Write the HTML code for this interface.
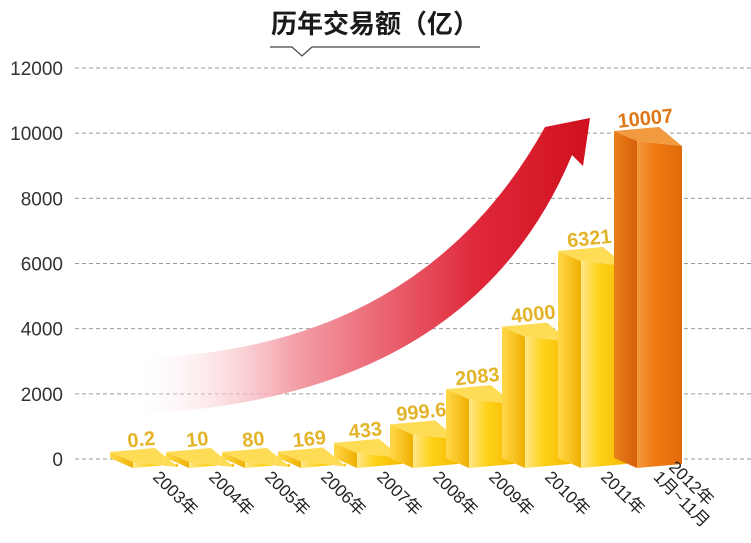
<!DOCTYPE html>
<html><head><meta charset="utf-8"><style>
body{margin:0;background:#fff;width:751px;height:543px;overflow:hidden;}
svg{display:block;font-family:"Liberation Sans","Noto Sans CJK SC",sans-serif;}
</style></head><body>
<svg id="c" width="751" height="543">
<defs>
<linearGradient id="arrowG" x1="0" y1="0" x2="1" y2="0">
<stop offset="0" stop-color="#fff" stop-opacity="0.1"/>
<stop offset="0.35" stop-color="#f3a0a8"/>
<stop offset="0.75" stop-color="#e0283a"/>
<stop offset="1" stop-color="#d0101e"/>
</linearGradient>
<linearGradient id="frontY" x1="0" x2="1"><stop offset="0" stop-color="#ffe88a"/><stop offset="0.4" stop-color="#ffd21a"/><stop offset="1" stop-color="#f5b800"/></linearGradient>
<linearGradient id="sideY" x1="0" x2="1"><stop offset="0" stop-color="#ffd84a"/><stop offset="1" stop-color="#f0b000"/></linearGradient>
<linearGradient id="frontO" x1="0" x2="1"><stop offset="0" stop-color="#f59a40"/><stop offset="0.4" stop-color="#ee7a12"/><stop offset="1" stop-color="#e06a0a"/></linearGradient>
<linearGradient id="sideO" x1="0" x2="1"><stop offset="0" stop-color="#e8801a"/><stop offset="1" stop-color="#d8600a"/></linearGradient>
</defs>
<text x="375" y="33" text-anchor="middle" font-size="26" font-weight="bold" fill="#1a1a1a">历年交易额（亿）</text>
<path d="M270,47 L292,47 L302,56 L312,47 L480,47" fill="none" stroke="#444" stroke-width="1.2"/>
<g id="grid"></g>
<path d="M135,358 Q420,352 545,127 L590,118 L583,166 L572,155 Q470,400 135,414 Z" fill="url(#arrowG)"/>
<g id="bars"></g>
</svg>
<script>
const categories=["2003年","2004年","2005年","2006年","2007年","2008年","2009年","2010年","2011年","2012年"];
const values=[0.2,10,80,169,433,999.6,2083,4000,6321,10007];
const valueLabels=["0.2","10","80","169","433","999.6","2083","4000","6321","10007"];
const yTicks=[0,2000,4000,6000,8000,10000,12000];
const NS="http://www.w3.org/2000/svg";
const y=v=>459-v*(391/12000);
const xb=i=>110+56*i;
function mk(tag,attrs,parent){const e=document.createElementNS(NS,tag);for(const k in attrs)e.setAttribute(k,attrs[k]);parent.appendChild(e);return e;}
const grid=document.getElementById('grid'),bars=document.getElementById('bars');
yTicks.forEach(t=>{
  const l=mk('line',{x1:75,x2:751,y1:y(t),y2:y(t),stroke:'#999','stroke-dasharray':'4,3','stroke-width':1},grid);
  
  
  const tx=mk('text',{x:63,y:y(t)+7,'text-anchor':'end','font-size':19,fill:'#333'},grid);
  tx.textContent=t;
  
  
});
values.forEach((v,i)=>{
  const x0=xb(i),last=i===values.length-1;
  const g=mk('g',{},bars);
  
  
  const yb=464;
  const top=Math.min(y(v)+8, yb-2);
  const sw=23, fw=45, d=10;
  const lt=Math.min(top-d, yb-12);
  // left side
  mk('polygon',{points:`${x0},${lt} ${x0+sw},${top} ${x0+sw},${yb+4} ${x0},${yb-6}`,fill:last?'url(#sideO)':'url(#sideY)'},g);
  // front
  mk('polygon',{points:`${x0+sw},${top} ${x0+sw+fw},${top+5} ${x0+sw+fw},${yb} ${x0+sw},${yb+4}`,fill:last?'url(#frontO)':'url(#frontY)'},g);
  // top
  mk('polygon',{points:`${x0},${lt} ${x0+fw},${lt-4} ${x0+sw+fw},${top+5} ${x0+sw},${top}`,fill:last?'#f29a40':'#ffdc55'},g);
  const lb=mk('text',{x:x0+32,y:lt-6,'text-anchor':'middle','font-size':20,'font-weight':'bold',fill:last?'#e07818':'#e3b42a',transform:`rotate(-6 ${x0+32} ${lt-6})`},g);
  lb.textContent=valueLabels[i];
  
  
  const lx=x0+42, ly=478;
  const xt=mk('text',{x:0,y:0,'font-size':17,fill:'#222',transform:`translate(${lx},${ly}) rotate(45)`},g);
  if(last){
    xt.setAttribute('transform',`translate(${lx+12},${ly-10}) rotate(45)`);
    const t1=mk('tspan',{x:0,dy:0},xt);t1.textContent='2012年';
    const t2=mk('tspan',{x:-4,dy:18},xt);t2.textContent='1月~11月';
  } else xt.textContent=categories[i];
  
  
});
</script>
</body></html>
